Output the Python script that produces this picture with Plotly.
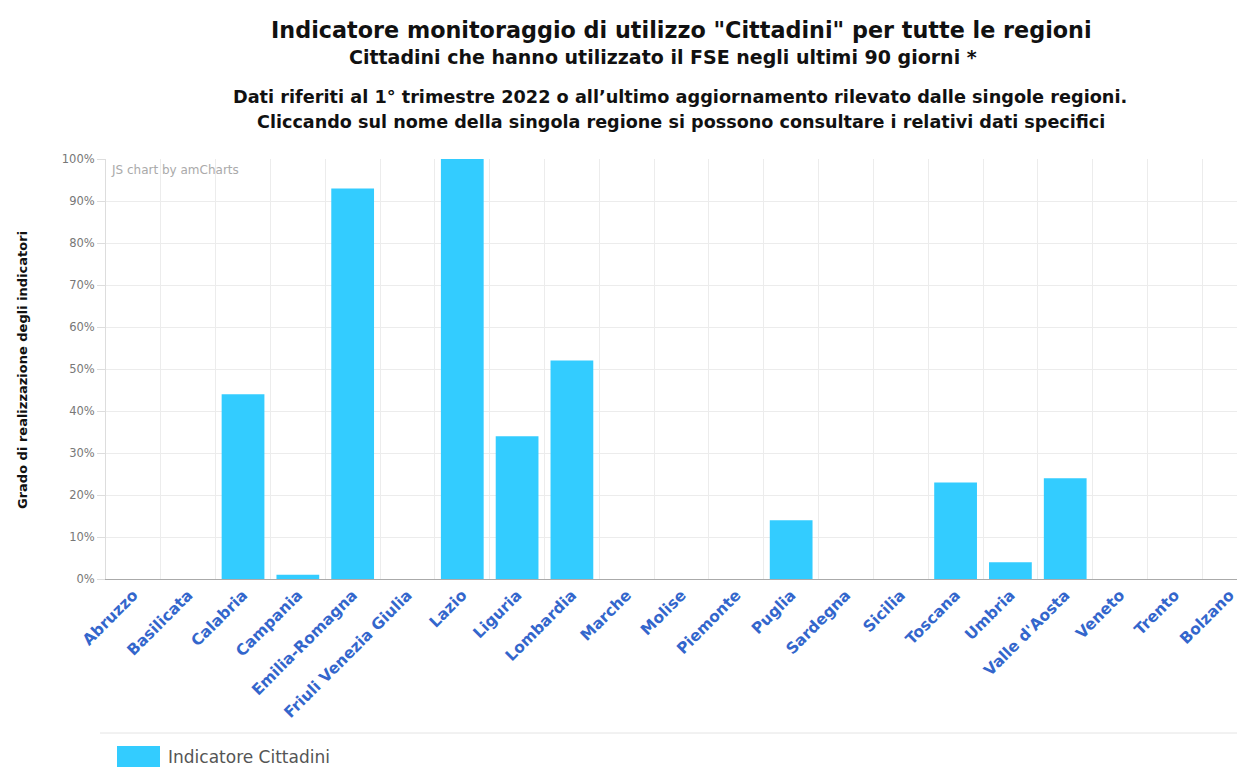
import plotly.graph_objects as go

regioni = ["Abruzzo", "Basilicata", "Calabria", "Campania", "Emilia-Romagna",
           "Friuli Venezia Giulia", "Lazio", "Liguria", "Lombardia", "Marche",
           "Molise", "Piemonte", "Puglia", "Sardegna", "Sicilia", "Toscana",
           "Umbria", "Valle d'Aosta", "Veneto", "Trento", "Bolzano"]
cittadini = [0, 0, 44, 1, 93, 0, 100, 34, 52, 0, 0, 0, 14, 0, 0, 23, 4, 24, 0, 0, 0]
y_ticks = list(range(0, 101, 10))

BAR = "#33ccff"
GRID = "#ececec"
FONT = "DejaVu Sans"

# page has an 8px body margin, keep the figure inside the window (no scrollbars)
OFF = 8
W, H = 1245 - OFF, 775 - 2 * OFF
L, T, B = 98, 151, 188
plot_h = H - T - B


def fx(px):
    # page pixel column -> paper x
    return (px - OFF - L) / (W - L)


def fy(px):
    # page pixel row -> paper y
    return (H - B - (px - OFF)) / plot_h


fig = go.Figure(go.Bar(
    x=regioni, y=cittadini, width=0.78,
    marker_color=BAR, marker_line_width=0,
    name="Indicatore Cittadini", showlegend=False,
    hovertemplate="%{x}: %{y}%<extra></extra>",
))

titles = [
    ("Indicatore monitoraggio di utilizzo \"Cittadini\" per tutte le regioni", 681, 30, 22.3),
    ("Cittadini che hanno utilizzato il FSE negli ultimi 90 giorni *", 663, 57, 19),
    ("Dati riferiti al 1° trimestre 2022 o all’ultimo aggiornamento rilevato dalle singole regioni.", 680, 97, 17.7),
    ("Cliccando sul nome della singola regione si possono consultare i relativi dati specifici", 681, 122, 17.6),
]
for txt, xpx, ypx, size in titles:
    fig.add_annotation(text=f"<b>{txt}</b>", x=fx(xpx), y=fy(ypx), xref="paper", yref="paper",
                       showarrow=False, xanchor="center", yanchor="middle",
                       font=dict(size=size, color="#111", family=FONT))

fig.add_annotation(text="JS chart by amCharts", x=fx(109), y=fy(170), xref="paper", yref="paper",
                   showarrow=False, xanchor="left", yanchor="middle",
                   font=dict(size=12, color="#aaa", family=FONT))

fig.add_annotation(text="<b>Grado di realizzazione degli indicatori</b>", textangle=-90,
                   x=fx(22), y=fy(370), xref="paper", yref="paper",
                   showarrow=False, xanchor="center", yanchor="middle",
                   font=dict(size=13, color="#111", family=FONT))

# legend block at the bottom
fig.add_shape(type="line", xref="paper", yref="paper",
              x0=fx(100), x1=1, y0=fy(733), y1=fy(733),
              line=dict(color="#e4e4e4", width=1))
fig.add_shape(type="rect", xref="paper", yref="paper",
              x0=fx(117), x1=fx(160), y0=fy(767), y1=fy(746),
              fillcolor=BAR, line_width=0)
fig.add_annotation(text="Indicatore Cittadini", x=fx(166), y=fy(757),
                   xref="paper", yref="paper", showarrow=False, xanchor="left", yanchor="middle",
                   font=dict(size=17, color="#555", family=FONT))

fig.update_layout(
    width=W, height=H,
    margin=dict(l=L, r=0, t=T, b=B),
    paper_bgcolor="white", plot_bgcolor="white",
    font=dict(family=FONT),
)
fig.update_xaxes(
    type="category", range=[-0.5, 20.28],
    tickson="boundaries", showgrid=True, gridcolor=GRID,
    ticks="", tickangle=-45,
    tickfont=dict(size=15.5, color="#3366cc", family=FONT, weight="bold"),
    showline=True, linecolor="#aaa", linewidth=1,
)
fig.update_yaxes(
    range=[0, 100], tickvals=y_ticks, ticktext=[f"{v}%" for v in y_ticks],
    showgrid=True, gridcolor=GRID, zeroline=False,
    showline=True, linecolor="#ddd", linewidth=1,
    ticks="outside", ticklen=8, tickcolor="#ddd",
    tickfont=dict(size=11.5, color="#777", family=FONT),
)

fig.write_html("out.html")
